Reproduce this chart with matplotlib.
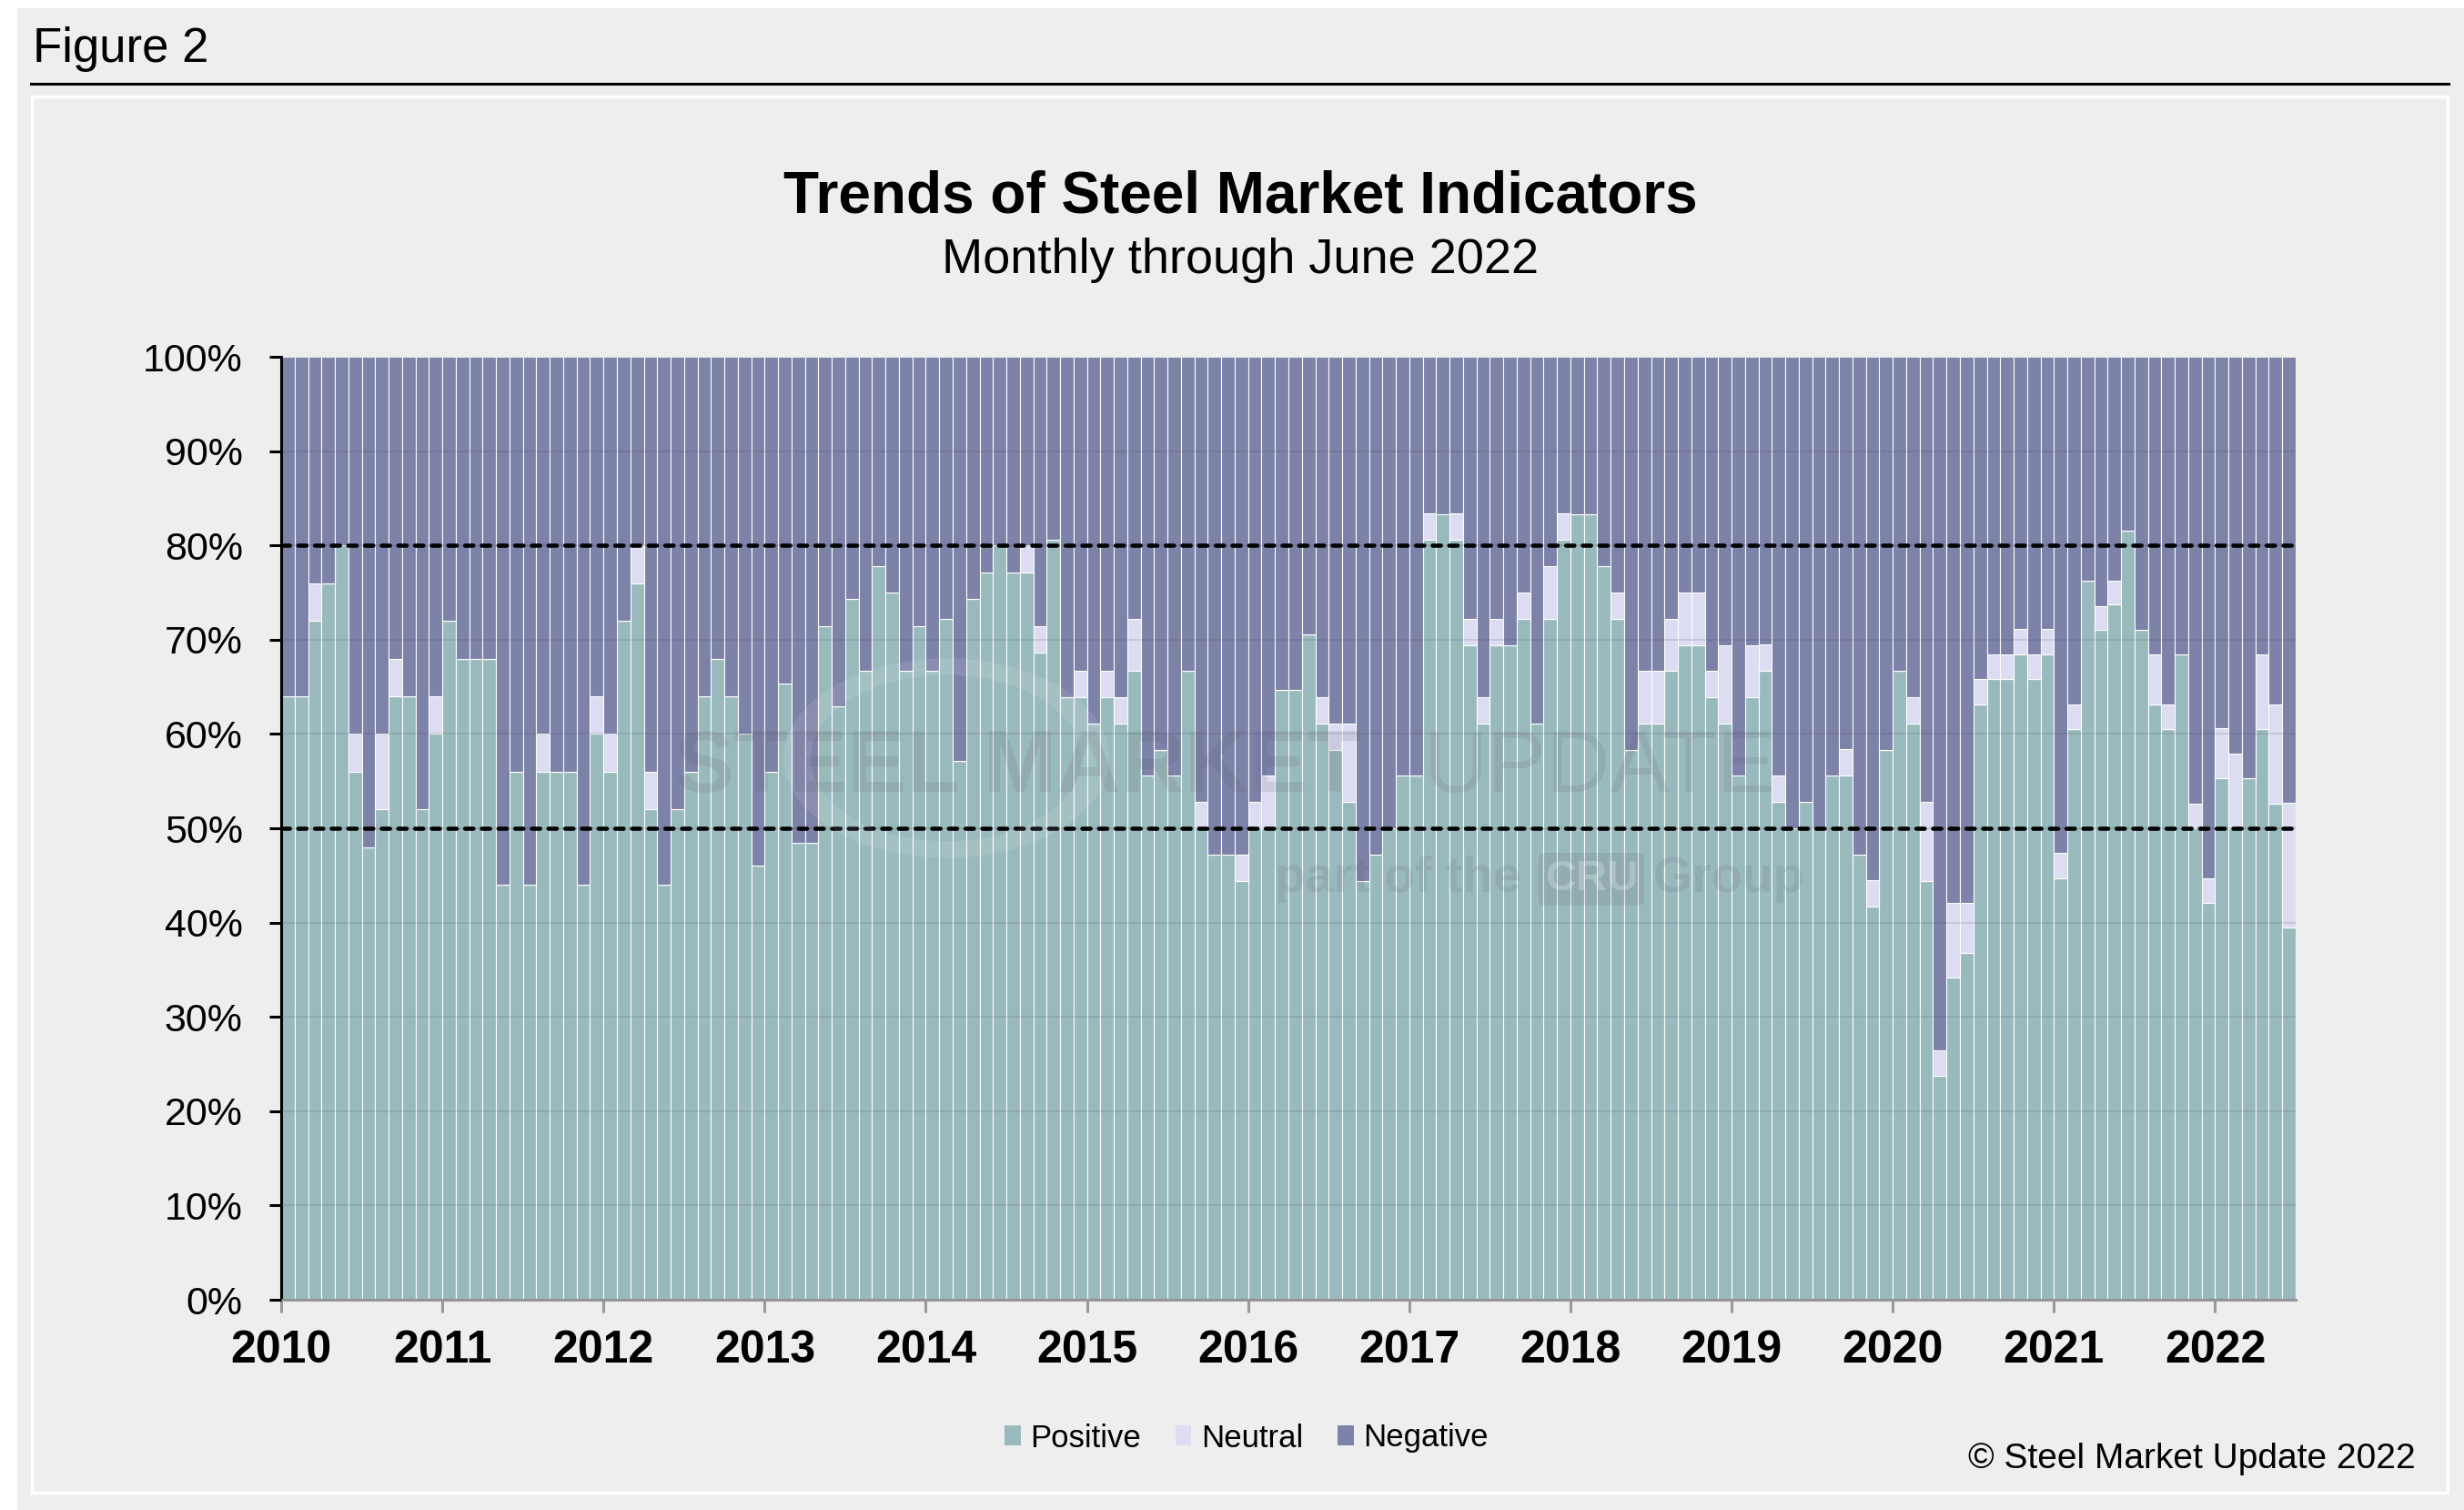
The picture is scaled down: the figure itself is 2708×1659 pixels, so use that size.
import matplotlib
matplotlib.use("Agg")
import matplotlib.pyplot as plt
from matplotlib.patches import Rectangle, Patch, Wedge
from matplotlib.lines import Line2D
import numpy as np

plt.rcParams['font.family'] = ['Liberation Sans', 'DejaVu Sans']

# datos, un mes por barra (ene 2010 - jun 2022), en %
year_labels = ["2010", "2011", "2012", "2013", "2014", "2015", "2016",
               "2017", "2018", "2019", "2020", "2021", "2022"]

positive = [
    64, 64, 72, 76, 80, 56, 48, 52, 64, 64, 52, 60,                          # 2010
    72, 68, 68, 68, 44, 56, 44, 56, 56, 56, 44, 60,                          # 2011
    56, 72, 76, 52, 44, 52, 56, 64, 68, 64, 60, 46,                          # 2012
    56, 65.3, 48.5, 48.5, 71.4, 62.9, 74.3, 66.7, 77.8, 75.0, 66.7, 71.4,    # 2013
    66.7, 72.2, 57.1, 74.3, 77.1, 80.0, 77.1, 77.1, 68.6, 80.6, 63.9, 63.9,  # 2014
    61.1, 63.9, 61.1, 66.7, 55.6, 58.3, 55.6, 66.7, 50.0, 47.2, 47.2, 44.4,  # 2015
    50.0, 50.0, 64.7, 64.7, 70.6, 61.1, 58.3, 52.8, 44.4, 47.2, 50.0, 55.6,  # 2016
    55.6, 80.6, 83.3, 80.6, 69.4, 61.1, 69.4, 69.4, 72.2, 61.1, 72.2, 80.6,  # 2017
    83.3, 83.3, 77.8, 72.2, 58.3, 61.1, 61.1, 66.7, 69.4, 69.4, 63.9, 61.1,  # 2018
    55.6, 63.9, 66.7, 52.8, 50.0, 52.8, 50.0, 55.6, 55.6, 47.2, 41.7, 58.3,  # 2019
    66.7, 61.1, 44.4, 23.7, 34.2, 36.8, 63.1, 65.8, 65.8, 68.4, 65.8, 68.4,  # 2020
    44.7, 60.5, 76.3, 71.0, 73.7, 81.6, 71.0, 63.1, 60.5, 68.4, 50.0, 42.1,  # 2021
    55.3, 50.0, 55.3, 60.5, 52.6, 39.5,                                      # 2022
]

neutral = [
    0, 0, 4, 0, 0, 4, 0, 8, 4, 0, 0, 4,
    0, 0, 0, 0, 0, 0, 0, 4, 0, 0, 0, 4,
    4, 0, 4, 4, 0, 0, 0, 0, 0, 0, 0, 0,
    0, 0, 0, 0, 0, 0, 0, 0, 0, 0, 0, 0,
    0, 0, 0, 0, 0, 0, 0, 2.9, 2.8, 0, 0, 2.8,
    0, 2.8, 2.8, 5.5, 0, 0, 0, 0, 2.8, 0, 0, 2.8,
    2.8, 5.6, 0, 0, 0, 2.8, 2.8, 8.3, 0, 0, 0, 0,
    0, 2.8, 0, 2.8, 2.8, 2.8, 2.8, 0, 2.8, 0, 5.6, 2.8,
    0, 0, 0, 2.8, 0, 5.6, 5.6, 5.5, 5.6, 5.6, 2.8, 8.3,
    0, 5.5, 2.8, 2.8, 0, 0, 0, 0, 2.8, 0, 2.8, 0,
    0, 2.8, 8.4, 2.7, 7.9, 5.3, 2.7, 2.6, 2.6, 2.7, 2.6, 2.7,
    2.7, 2.6, 0, 2.6, 2.6, 0, 0, 5.3, 2.6, 0, 2.6, 2.6,
    5.3, 7.9, 0, 7.9, 10.5, 13.2,
]

negative = [
    36, 36, 24, 24, 20, 40, 52, 40, 32, 36, 48, 36,
    28, 32, 32, 32, 56, 44, 56, 40, 44, 44, 56, 36,
    40, 28, 20, 44, 56, 48, 44, 36, 32, 36, 40, 54,
    44, 34.7, 51.5, 51.5, 28.6, 37.1, 25.7, 33.3, 22.2, 25.0, 33.3, 28.6,
    33.3, 27.8, 42.9, 25.7, 22.9, 20.0, 22.9, 20.0, 28.6, 19.4, 36.1, 33.3,
    38.9, 33.3, 36.1, 27.8, 44.4, 41.7, 44.4, 33.3, 47.2, 52.8, 52.8, 52.8,
    47.2, 44.4, 35.3, 35.3, 29.4, 36.1, 38.9, 38.9, 55.6, 52.8, 50.0, 44.4,
    44.4, 16.6, 16.7, 16.6, 27.8, 36.1, 27.8, 30.6, 25.0, 38.9, 22.2, 16.6,
    16.7, 16.7, 22.2, 25.0, 41.7, 33.3, 33.3, 27.8, 25.0, 25.0, 33.3, 30.6,
    44.4, 30.6, 30.5, 44.4, 50.0, 47.2, 50.0, 44.4, 41.6, 52.8, 55.5, 41.7,
    33.3, 36.1, 47.2, 73.6, 57.9, 57.9, 34.2, 31.6, 31.6, 28.9, 31.6, 28.9,
    52.6, 36.9, 23.7, 26.4, 23.7, 18.4, 29.0, 31.6, 36.9, 31.6, 47.4, 55.3,
    39.4, 42.1, 44.7, 31.6, 36.9, 47.3,
]

W, H = 2708, 1659
C_POS = "#99babd"
C_NEU = "#dcdcf2"
C_NEG = "#7c82a8"
BG = "#eeeeee"
WM = "#555566"   # color de la marca de agua


def fx(px):
    return px / W


def fy(py):
    return 1 - py / H


fig = plt.figure(figsize=(W / 100, H / 100), dpi=100, facecolor=BG)

# 1) marco: bordes blancos, "Figure 2", linea negra y panel (detras de los ejes)
fig.patches.append(Rectangle((0, fy(9)), 1, 9 / H, transform=fig.transFigure,
                             facecolor="white", edgecolor="none", zorder=-2))
fig.patches.append(Rectangle((0, 0), fx(19), 1, transform=fig.transFigure,
                             facecolor="white", edgecolor="none", zorder=-2))
fig.text(fx(36), fy(68), "Figure 2", fontsize=38, ha="left", va="baseline")
fig.lines.append(Line2D([fx(34), fx(2691)], [fy(92), fy(92)], color="black",
                        lw=2.2, transform=fig.transFigure))
fig.patches.append(Rectangle((fx(35), fy(1640)), fx(2690) - fx(35), (1640 - 106) / H,
                             transform=fig.transFigure, facecolor=BG,
                             edgecolor="white", lw=2.5, zorder=-1))

fig.text(fx(1363), fy(233), "Trends of Steel Market Indicators", fontsize=46,
         fontweight="bold", ha="center", va="baseline")
fig.text(fx(1363), fy(300), "Monthly through June 2022", fontsize=39,
         ha="center", va="baseline")

# 2) barras apiladas
ax = fig.add_axes([fx(309), fy(1428), (2523 - 309) / W, (1428 - 392) / H])
ax.set_facecolor("none")
ax.set_zorder(1)

pos = np.array(positive)
neu = np.array(neutral)
neg = np.array(negative)
x = np.arange(len(pos)) + 0.5

ax.bar(x, pos, width=1, color=C_POS, edgecolor="white", linewidth=0.8, label="Positive")
ax.bar(x, neu, width=1, bottom=pos, color=C_NEU, edgecolor="white", linewidth=0.8,
       label="Neutral")
ax.bar(x, neg, width=1, bottom=pos + neu, color=C_NEG, edgecolor="white", linewidth=0.8,
       label="Negative")

ax.set_xlim(0, len(pos))
ax.set_ylim(0, 100)

# marca de agua
fig.patches.append(Wedge((fx(1040), fy(833)), 0.066, 0, 360, width=0.011,
                         transform=fig.transFigure, facecolor="white", alpha=0.10,
                         edgecolor="none", zorder=4))
fig.text(fx(742), fy(870), "STEEL MARKET", fontsize=70, fontweight="bold",
         color=WM, alpha=0.13, ha="left", va="baseline", zorder=5)
fig.text(fx(1952), fy(870), "UPDATE", fontsize=70, color=WM, alpha=0.13,
         ha="right", va="baseline", zorder=5)
fig.text(fx(1672), fy(980), "part of the", fontsize=40, fontweight="bold",
         color=WM, alpha=0.13, ha="right", va="baseline", zorder=5)
fig.text(fx(1749), fy(978), "CRU", fontsize=34, fontweight="bold", color="white",
         alpha=0.25, ha="center", va="baseline", zorder=5,
         bbox=dict(boxstyle="round,pad=0.15", facecolor=WM, alpha=0.13,
                   edgecolor="none"))
fig.text(fx(1817), fy(980), "Group", fontsize=40, fontweight="bold",
         color=WM, alpha=0.13, ha="left", va="baseline", zorder=5)

# 3) lineas de referencia 50% y 80%
for lvl in (50, 80):
    ax.axhline(lvl, color="black", lw=3.3, linestyle=(0, (2.0, 2.0)),
               dash_capstyle="round", zorder=6)

# 4) ejes
ax.set_axisbelow(False)
ax.yaxis.grid(True, color="#4a4a6a", alpha=0.15, lw=1.5)
ax.set_yticks(np.arange(0, 101, 10))
ax.set_yticklabels([f"{v}%" for v in range(0, 101, 10)])
ax.set_xticks(np.arange(0, len(pos), 12))
ax.set_xticklabels(year_labels, fontweight="bold")

ax.spines["top"].set_visible(False)
ax.spines["right"].set_visible(False)
ax.spines["left"].set_linewidth(2.2)
ax.spines["left"].set_color("black")
ax.spines["bottom"].set_linewidth(2.2)
ax.spines["bottom"].set_color("#999999")

ax.tick_params(axis="y", length=9.4, width=2.2, color="black", labelsize=31, pad=21)
ax.tick_params(axis="x", length=10, width=2.2, color="#999999", labelsize=36, pad=14)

# 5) leyenda y copyright
handles = [Patch(facecolor=C_POS, edgecolor="none"),
           Patch(facecolor=C_NEU, edgecolor="none"),
           Patch(facecolor=C_NEG, edgecolor="none")]
fig.legend(handles, ["Positive", "Neutral", "Negative"], loc="center",
           bbox_to_anchor=(fx(1370), fy(1580)), ncol=3, frameon=False, fontsize=25,
           handlelength=0.5, handleheight=0.6, handletextpad=0.3, columnspacing=1.1)

fig.text(fx(2655), fy(1613), "\u00a9 Steel Market Update 2022", fontsize=28,
         ha="right", va="baseline")

fig.savefig("out.png", dpi=100, facecolor=fig.get_facecolor())
